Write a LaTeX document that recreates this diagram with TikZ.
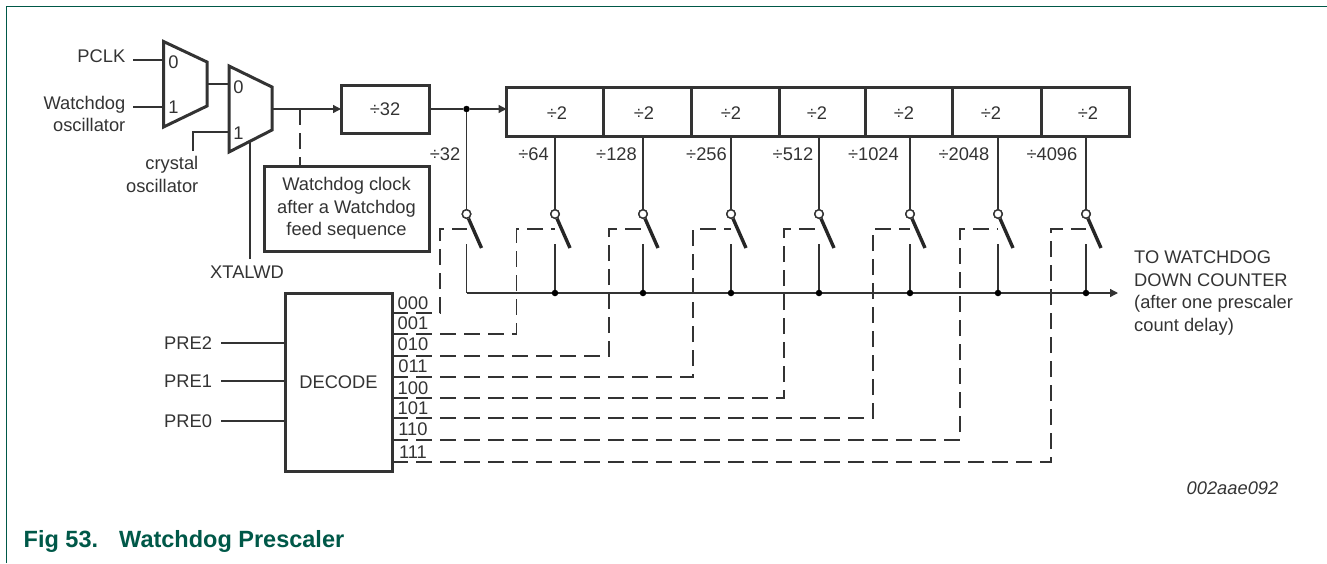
\documentclass[tikz,border=0pt]{standalone}
\usepackage{fontspec}
\setmainfont{Liberation Sans}
\usetikzlibrary{arrows.meta}

\definecolor{nxpgreen}{RGB}{0,88,72}
\definecolor{ink}{gray}{0.2}

\begin{document}
\begin{tikzpicture}[
    x=1pt,
    y=-1pt,
    every node/.style={
        inner sep=0pt,
        text=ink
    },
    label/.style={
        font=\fontsize{18.3}{22.5}\selectfont,
        align=center
    },
    box/.style={
        draw=ink,
        outer sep=0pt,
        line width=3pt
    },
    mux/.style={
        draw=ink,
        line width=3pt,
        line join=miter
    },
    wire/.style={
        draw=ink,
        line width=1.3pt
    },
    arrow/.style={
        wire,
        -{Triangle[length=8pt,width=8pt]}
    },
    ctrl/.style={
        wire,
        dash pattern=on 16pt off 8pt
    },
    blade/.style={
        draw=black!85,
        line width=3.4pt
    },
    pin/.style={
        circle,
        draw=ink,
        fill=white,
        line width=1.4pt,
        minimum size=8.5pt
    },
    junction/.style={
        circle,
        fill=black,
        minimum size=6.5pt
    }
]
\useasboundingbox (0,0) rectangle (1327,563);

% frame and caption
\draw[nxpgreen, line width=1.3pt] (6.3,563) -- (6.3,6.2) -- (1327,6.2);
\node[label, anchor=west, text=nxpgreen, font=\fontsize{23.5}{28}\selectfont\bfseries] (caption) at (23.5,541) {Fig 53.};
\node[label, anchor=west, text=nxpgreen, font=\fontsize{23.5}{28}\selectfont\bfseries] (title) at (119,541) {Watchdog Prescaler};
\node[label, font=\fontsize{18.3}{22.5}\selectfont\itshape] (docid) at (1232.5,488) {002aae092};

% clock select
\draw[mux] (163.5,41.5) coordinate (muxa) -- (207,62) -- (207,106) -- (163.5,127) -- cycle;
\draw[mux] (229,66) coordinate (muxb) -- (272,87) -- (272,130) -- (229,152) -- cycle;
\node[label] (muxa0) at (173.5,62) {0};
\node[label] (muxa1) at (173.5,107) {1};
\node[label] (muxb0) at (238.5,87) {0};
\node[label] (muxb1) at (238.5,133) {1};
\node[label, anchor=east] (pclk) at (125.5,56) {PCLK};
\node[label, anchor=east, align=right] (wdosc) at (125.5,114) {Watchdog\\oscillator};
\node[label, anchor=east, align=right] (xtal) at (198.5,174.5) {crystal\\oscillator};
\node[label] (xtalwd) at (247,272) {XTALWD};

\coordinate (pclkend) at (133,60);
\coordinate (pclkin) at (163.5,60);
\coordinate (wdoscend) at (133,107);
\coordinate (wdoscin) at (163.5,107);
\coordinate (muxaout) at (207,84);
\coordinate (muxbin) at (229,84);
\coordinate (xtalend) at (193,151);
\coordinate (xtalin) at (229,132);
\coordinate (selb) at (250,142);
\coordinate (selend) at (250,259);
\coordinate (muxbout) at (272,109);
\coordinate (feedtap) at (300,109);

\draw[wire] (pclkend) -- (pclkin);
\draw[wire] (wdoscend) -- (wdoscin);
\draw[wire] (muxaout) -- (muxbin);
\draw[wire] (xtalend) |- (xtalin);
\draw[wire] (selb) -- (selend);

% prescaler chain
\node[box, minimum width=88pt, minimum height=48pt] (div32) at (385,109) {};
\node[label] (div32text) at (385,109) {÷32};
\node[box, minimum width=165pt, minimum height=85pt, label] (feed) at (346.5,208.5) {Watchdog clock\\after a Watchdog\\feed sequence};
\draw[arrow] (muxbout) -- (div32.west);
\draw[ctrl] (feedtap) -- (feedtap |- feed.north);

\foreach \xa/\xb/\xt/\n in {506.5/603/557/1, 603/691/644/2, 691/779/731/3, 779/865/817/4, 865/952/904/5, 952/1041/991/6, 1041/1129/1088/7} {
    \node[box, anchor=north west, minimum width=\xb pt-\xa pt, minimum height=49pt] (cell\n) at (\xa,87) {};
    \node[label] (cell\n text) at (\xt,113) {÷2};
}
\node[junction] (split) at (466.5,109) {};
\draw[wire] (div32.east) -- (split);
\draw[arrow] (split) -- (split -| cell1.west);

% decoder
\node[box, minimum width=107pt, minimum height=178pt, label] (decode) at (338.5,382) {DECODE};
\foreach \y/\n in {343/2, 381/1, 421/0} {
    \node[label, anchor=west] (pre\n) at (164,\y) {PRE\n};
    \coordinate (prein\n) at (221,\y);
    \draw[wire] (prein\n) -- (prein\n -| decode.west);
}

% output bus
\coordinate (busstart) at (466.5,293);
\coordinate (busend) at (1118,293);
\node[label, anchor=north west, align=left] (target) at (1134,251) {TO WATCHDOG\\DOWN COUNTER\\(after one prescaler\\count delay)};

% switches
\foreach \x/\cx/\y/\ly/\bits/\div/\lx/\n in {
    466.5/440/313/303/000/32/460.5/0,
    555/516.5/334/323/001/64/549/1,
    643/609/356/344/010/128/637/2,
    731/693/377/366/011/256/727/3,
    819/784/398/388/100/512/813.5/4,
    910/873/418/408/101/1024/899/5,
    998/960/440/429/110/2048/989.5/6,
    1086/1051/462/452/111/4096/1077.5/7} {
    \coordinate (tap\n) at (\x,136);
    \node[pin] (pin\n) at (\x,214) {};
    \coordinate (contact\n) at (\x,244);
    \coordinate (bladeend\n) at (\x+15,248);
    \coordinate (drop\n) at (\x,293);
    \coordinate (out\n) at (392,\y);
    \coordinate (turn\n) at (\cx,229);
    \coordinate (gate\n) at (\x,229);
    \node[label] (bits\n) at (413,\ly) {\bits};
    \node[label, anchor=east] (div\n) at (\lx,154) {÷\div};
    \draw[ctrl] (out\n) -| (turn\n) -- (gate\n);
    \draw[wire] (contact\n) -- (drop\n);
    \draw[blade] (pin\n) -- (bladeend\n);
    \node[pin] at (pin\n) {};
}
\draw[arrow] (busstart) -- (busend);
\draw[wire] (split) -- (pin0);
\foreach \n in {1,...,7} {
    \draw[wire] (tap\n) -- (pin\n);
    \node[junction] (dot\n) at (drop\n) {};
}

\end{tikzpicture}
\end{document}
